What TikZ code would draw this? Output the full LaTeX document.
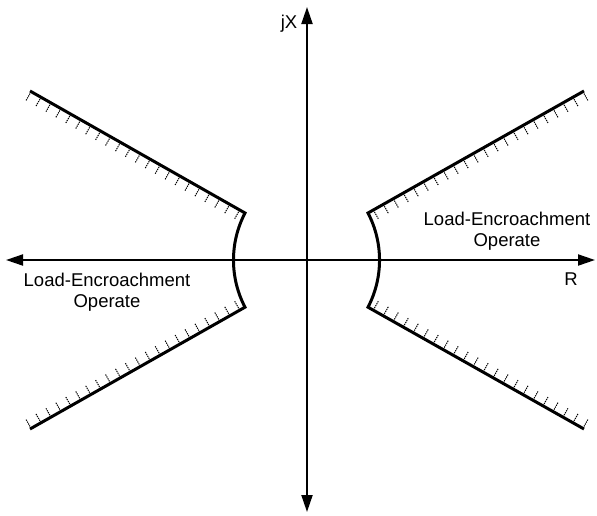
\documentclass[tikz,border=0pt]{standalone}
\usepackage{fontspec}
\setmainfont{Liberation Sans}
\usetikzlibrary{arrows.meta,calc}
\tikzset{
  axis/.style={line width=2pt,-{Triangle[length=17pt,width=11pt]}},
  boundary/.style={line width=3pt,line join=miter},
  hatch/.style={line width=1pt,dash pattern=on 1.3pt off 0.9pt},
  lbl/.style={font=\fontsize{18.5}{21}\selectfont,align=center,inner sep=0pt}
}
\begin{document}
\begin{tikzpicture}[x=1pt,y=-1pt]
\useasboundingbox (0,0) rectangle (597,515);
% axes
\coordinate (o) at (307,260);
\coordinate (xl) at (6,260);
\coordinate (xr) at (595,260);
\coordinate (yt) at (307,7);
\coordinate (yb) at (307,512);
\draw[axis] (o) -- (xl);
\draw[axis] (o) -- (xr);
\draw[axis] (o) -- (yt);
\draw[axis] (o) -- (yb);
% boundary points
\coordinate (ula) at (30,91);
\coordinate (ulb) at (245,213);
\coordinate (lla) at (30,429);
\coordinate (llb) at (245,307);
\coordinate (ura) at (584,91);
\coordinate (urb) at (368,213);
\coordinate (lra) at (584,429);
\coordinate (lrb) at (368,307);
% left boundary
\draw[boundary] (ula) -- (ulb) arc[start angle=-152.5, end angle=-207.5, radius=102] -- (lla);
% right boundary
\draw[boundary] (ura) -- (urb) arc[start angle=-27.5, end angle=27.5, radius=102] -- (lra);
% hatches
\foreach \t in {0,1,...,21}{
  \pgfmathsetmacro{\f}{0.005+\t*0.0462}
  \draw[hatch] ($(ula)!\f!(ulb)$) -- ($(ula)!\f!(ulb)!10.5pt!-90:(ulb)$);
  \draw[hatch] ($(lla)!\f!(llb)$) -- ($(lla)!\f!(llb)!10.5pt!90:(llb)$);
  \draw[hatch] ($(ura)!\f!(urb)$) -- ($(ura)!\f!(urb)!10.5pt!90:(urb)$);
  \draw[hatch] ($(lra)!\f!(lrb)$) -- ($(lra)!\f!(lrb)!10.5pt!-90:(lrb)$);
}
% labels
\node[lbl] (jx) at (289,24) {jX};
\node[lbl] (r) at (571,279) {R};
\node[lbl] (left) at (107,292) {Load-Encroachment\\Operate};
\node[lbl] (right) at (507,231) {Load-Encroachment\\Operate};
\end{tikzpicture}
\end{document}
